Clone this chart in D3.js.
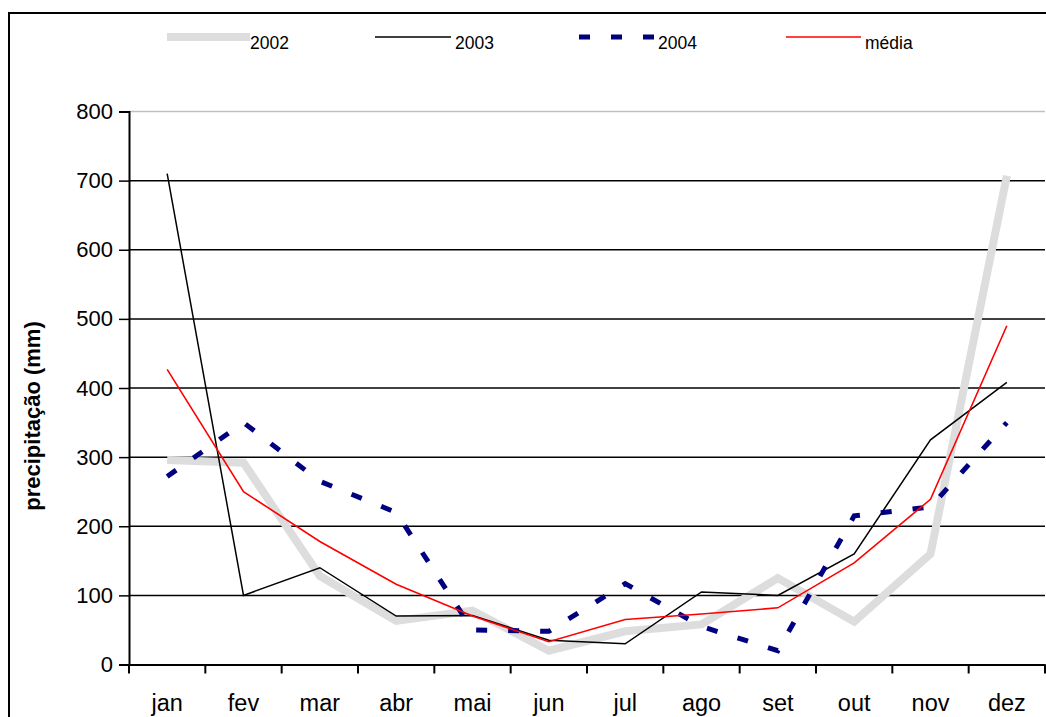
<!DOCTYPE html>
<html>
<head>
<meta charset="utf-8">
<script src="https://cdn.jsdelivr.net/npm/d3@7"></script>
<style>
  html, body { margin: 0; padding: 0; background: #fff; }
  svg { display: block; font-family: "Liberation Sans", Arial, sans-serif; }
</style>
</head>
<body>
<svg id="chart" width="1046" height="717"></svg>
<script>
// Monthly precipitation (mm)
const months = ["jan", "fev", "mar", "abr", "mai", "jun", "jul", "ago", "set", "out", "nov", "dez"];
const s2002 = [296, 292, 128, 63, 78, 20, 48, 58, 125, 62, 160, 707];
const s2003 = [710, 100, 140, 70, 71, 35, 30, 105, 100, 160, 325, 408];
const s2004 = [272, 350, 265, 220, 50, 48, 117, 55, 20, 215, 228, 350];
const media = [427, 250, 178, 116, 70, 33, 65, 73, 82, 147, 239, 490];
const yTicks = [0, 100, 200, 300, 400, 500, 600, 700, 800];

const series = [
  { name: "2002", values: s2002, color: "#dddddd", width: 8, dash: null },
  { name: "2003", values: s2003, color: "#000000", width: 1.5, dash: null },
  { name: "2004", values: s2004, color: "#000080", width: 5, dash: "11,21" },
  { name: "média", values: media, color: "#ff0000", width: 1.6, dash: null }
];

const svg = d3.select("#chart");

// outer chart frame
svg.append("rect")
  .attr("x", 9).attr("y", 13)
  .attr("width", 1100).attr("height", 800)
  .attr("fill", "none").attr("stroke", "#000").attr("stroke-width", 2);

const x = d3.scaleBand().domain(months).range([129, 1045]);
const y = d3.scaleLinear().domain([0, 800]).range([664.5, 111.5]);

// horizontal gridlines
svg.append("g").selectAll("line")
  .data(yTicks.filter(d => d > 0))
  .join("line")
  .attr("x1", 129).attr("x2", 1045)
  .attr("y1", d => y(d)).attr("y2", d => y(d))
  .attr("stroke", d => d === 800 ? "#c0c0c0" : "#000")
  .attr("stroke-width", 1.5);

// y axis
const yAxis = svg.append("g")
  .attr("transform", "translate(129,0)")
  .call(d3.axisLeft(y).tickValues(yTicks).tickSize(10).tickPadding(6).tickFormat(d3.format("d")));
yAxis.select(".domain").attr("stroke-width", 2);
yAxis.selectAll(".tick line").attr("stroke-width", 1.5);
yAxis.selectAll("text").attr("font-size", 22).attr("fill", "#000")
  .attr("font-family", "'Liberation Sans', Arial, sans-serif");

// x axis
const xAxis = svg.append("g")
  .attr("transform", `translate(0,${y(0)})`)
  .call(d3.axisBottom(x).tickSize(0).tickPadding(29.5));
xAxis.select(".domain").attr("stroke-width", 2);
xAxis.selectAll("text").attr("font-size", 23.5).attr("fill", "#000")
  .attr("font-family", "'Liberation Sans', Arial, sans-serif");
// category boundary ticks
svg.append("g").selectAll("line")
  .data(months.concat(["_end"]))
  .join("line")
  .attr("x1", (d, i) => i < months.length ? x(d) : x.range()[1])
  .attr("x2", (d, i) => i < months.length ? x(d) : x.range()[1])
  .attr("y1", y(0)).attr("y2", y(0) + 9)
  .attr("stroke", "#000").attr("stroke-width", 2);

// y axis title
svg.append("text")
  .attr("transform", "translate(40,416) rotate(-90)")
  .attr("text-anchor", "middle")
  .attr("font-size", 22)
  .attr("font-weight", "bold")
  .text("precipitação (mm)");

// series lines
const line = d3.line()
  .x((d, i) => x(months[i]) + x.bandwidth() / 2)
  .y(d => y(d));

series.forEach(s => {
  svg.append("path")
    .datum(s.values)
    .attr("d", line)
    .attr("fill", "none")
    .attr("stroke", s.color)
    .attr("stroke-width", s.width)
    .attr("stroke-linejoin", "miter")
    .attr("stroke-dasharray", s.dash);
});

// legend
const legendItems = [
  { x1: 167, x2: 250, tx: 250 },
  { x1: 375, x2: 451, tx: 455 },
  { x1: 579, x2: 654, tx: 658 },
  { x1: 786, x2: 861, tx: 865 }
];
const lg = svg.append("g");
series.forEach((s, i) => {
  const it = legendItems[i];
  lg.append("line")
    .attr("x1", it.x1).attr("x2", it.x2)
    .attr("y1", 37).attr("y2", 37)
    .attr("stroke", s.color)
    .attr("stroke-width", s.width)
    .attr("stroke-dasharray", s.dash);
  lg.append("text")
    .attr("x", it.tx).attr("y", 48.5)
    .attr("font-size", 17.5)
    .text(s.name);
});
</script>
</body>
</html>
